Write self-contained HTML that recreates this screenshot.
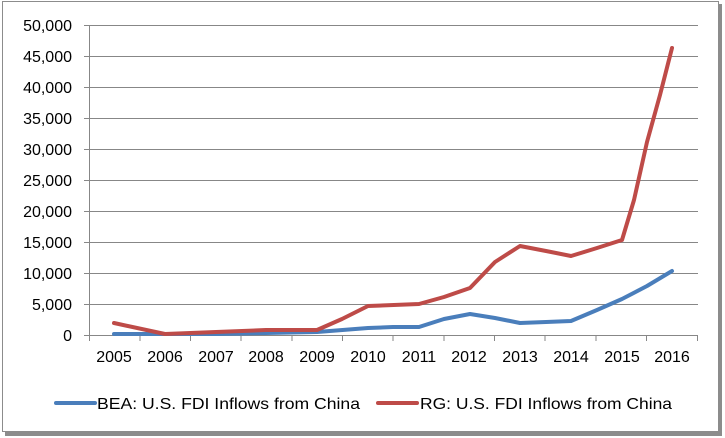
<!DOCTYPE html>
<html><head><style>
body{margin:0;background:#fff;}
svg{display:block;font-family:"Liberation Sans",Calibri,sans-serif;}
</style></head><body>
<svg width="725" height="438" viewBox="0 0 725 438">
<rect x="0" y="0" width="725" height="438" fill="#fff"/>
<rect x="5" y="4" width="717" height="432" fill="#8c8c8c"/>
<rect x="2.5" y="1.5" width="716" height="430" fill="#fff" stroke="#8c8c8c" stroke-width="1"/>
<g stroke="#878787" stroke-width="1">
<line x1="89" y1="25.5" x2="698" y2="25.5"/>
<line x1="89" y1="56.5" x2="698" y2="56.5"/>
<line x1="89" y1="87.5" x2="698" y2="87.5"/>
<line x1="89" y1="118.5" x2="698" y2="118.5"/>
<line x1="89" y1="149.5" x2="698" y2="149.5"/>
<line x1="89" y1="180.5" x2="698" y2="180.5"/>
<line x1="89" y1="211.5" x2="698" y2="211.5"/>
<line x1="89" y1="242.5" x2="698" y2="242.5"/>
<line x1="89" y1="273.5" x2="698" y2="273.5"/>
<line x1="89" y1="304.5" x2="698" y2="304.5"/>
<line x1="89" y1="335.5" x2="698" y2="335.5"/>
<line x1="89.5" y1="25" x2="89.5" y2="335"/>
<line x1="84" y1="25.5" x2="89" y2="25.5"/>
<line x1="84" y1="56.5" x2="89" y2="56.5"/>
<line x1="84" y1="87.5" x2="89" y2="87.5"/>
<line x1="84" y1="118.5" x2="89" y2="118.5"/>
<line x1="84" y1="149.5" x2="89" y2="149.5"/>
<line x1="84" y1="180.5" x2="89" y2="180.5"/>
<line x1="84" y1="211.5" x2="89" y2="211.5"/>
<line x1="84" y1="242.5" x2="89" y2="242.5"/>
<line x1="84" y1="273.5" x2="89" y2="273.5"/>
<line x1="84" y1="304.5" x2="89" y2="304.5"/>
<line x1="84" y1="335.5" x2="89" y2="335.5"/>
<line x1="89.5" y1="335" x2="89.5" y2="341"/>
<line x1="140" y1="335" x2="140" y2="341"/>
<line x1="190.5" y1="335" x2="190.5" y2="341"/>
<line x1="241" y1="335" x2="241" y2="341"/>
<line x1="292" y1="335" x2="292" y2="341"/>
<line x1="342.5" y1="335" x2="342.5" y2="341"/>
<line x1="393" y1="335" x2="393" y2="341"/>
<line x1="444" y1="335" x2="444" y2="341"/>
<line x1="494.5" y1="335" x2="494.5" y2="341"/>
<line x1="545" y1="335" x2="545" y2="341"/>
<line x1="596" y1="335" x2="596" y2="341"/>
<line x1="646.5" y1="335" x2="646.5" y2="341"/>
<line x1="697.5" y1="335" x2="697.5" y2="341"/>
</g>
<g font-size="16" fill="#000" text-anchor="end">
<text x="72" y="31">50,000</text>
<text x="72" y="62">45,000</text>
<text x="72" y="93">40,000</text>
<text x="72" y="124">35,000</text>
<text x="72" y="155">30,000</text>
<text x="72" y="186">25,000</text>
<text x="72" y="217">20,000</text>
<text x="72" y="248">15,000</text>
<text x="72" y="279">10,000</text>
<text x="72" y="310">5,000</text>
<text x="72" y="341">0</text>
</g>
<g font-size="16" fill="#000" text-anchor="middle">
<text x="114" y="362">2005</text>
<text x="165" y="362">2006</text>
<text x="216" y="362">2007</text>
<text x="266" y="362">2008</text>
<text x="317" y="362">2009</text>
<text x="368" y="362">2010</text>
<text x="419" y="362">2011</text>
<text x="469" y="362">2012</text>
<text x="520" y="362">2013</text>
<text x="571" y="362">2014</text>
<text x="622" y="362">2015</text>
<text x="672" y="362">2016</text>
</g>
<polyline fill="none" stroke="#4a7ebb" stroke-width="4" stroke-linejoin="round" stroke-linecap="round"
points="114,334 165,334 216,334 266,333 317,332 368,328 393,327 419,327 444,319 470,314 495,318 520,323 546,322 571,321 597,310 622,299 647,286 672,271"/>
<polyline fill="none" stroke="#be4b48" stroke-width="4" stroke-linejoin="round" stroke-linecap="round"
points="114,323 165,334 216,332 266,330 317,330 342,319 368,306 419,304 444,297 470,288 495,262 520,246 546,251 571,256 597,248 622,240 634,200 647,142 660,95 672,48"/>
<line x1="56" y1="403" x2="95" y2="403" stroke="#4a7ebb" stroke-width="4" stroke-linecap="round"/>
<text x="97" y="409" font-size="16" textLength="263" lengthAdjust="spacingAndGlyphs">BEA: U.S. FDI Inflows from China</text>
<line x1="378" y1="403" x2="417" y2="403" stroke="#be4b48" stroke-width="4" stroke-linecap="round"/>
<text x="420" y="409" font-size="16" textLength="252" lengthAdjust="spacingAndGlyphs">RG: U.S. FDI Inflows from China</text>
</svg>
</body></html>
